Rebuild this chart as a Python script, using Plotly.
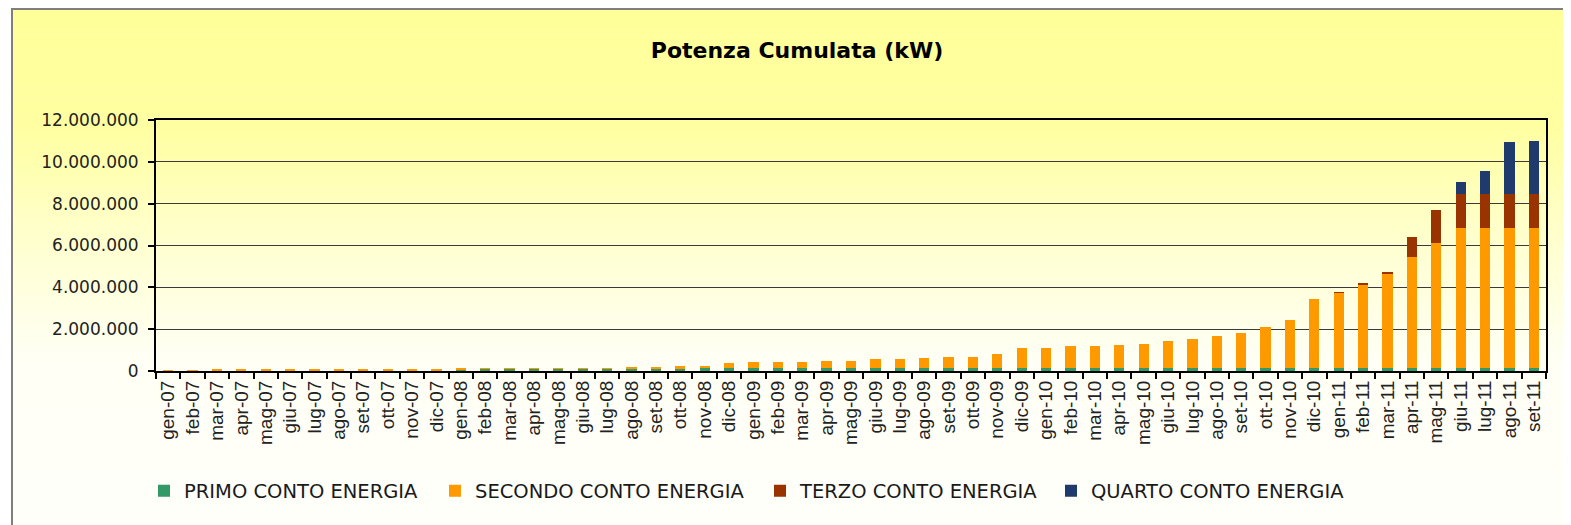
import plotly.graph_objects as go

# mesi (gen-07 ... set-11)
months = [
    "gen-07", "feb-07", "mar-07", "apr-07", "mag-07", "giu-07", "lug-07", "ago-07", "set-07", "ott-07", "nov-07", "dic-07",
    "gen-08", "feb-08", "mar-08", "apr-08", "mag-08", "giu-08", "lug-08", "ago-08", "set-08", "ott-08", "nov-08", "dic-08",
    "gen-09", "feb-09", "mar-09", "apr-09", "mag-09", "giu-09", "lug-09", "ago-09", "set-09", "ott-09", "nov-09", "dic-09",
    "gen-10", "feb-10", "mar-10", "apr-10", "mag-10", "giu-10", "lug-10", "ago-10", "set-10", "ott-10", "nov-10", "dic-10",
    "gen-11", "feb-11", "mar-11", "apr-11", "mag-11", "giu-11", "lug-11", "ago-11", "set-11",
]

# potenza cumulata in kW
primo = [
    0, 0, 0, 0, 0, 0, 0, 0, 0, 0, 0, 0,
    95000, 98000, 100000, 102000, 105000, 107000, 110000, 112000, 115000, 118000, 120000, 125000,
    128000, 130000, 132000, 134000, 136000, 138000, 140000, 142000, 144000, 146000, 148000, 150000,
    152000, 153000, 154000, 155000, 156000, 157000, 158000, 159000, 160000, 161000, 162000, 163000,
    163000, 163000, 163000, 163000, 163000, 163000, 163000, 163000, 163000,
]
secondo = [
    40000, 45000, 50000, 52000, 55000, 58000, 60000, 62000, 65000, 68000, 70000, 75000,
    35000, 34000, 34000, 34000, 33000, 33000, 32000, 78000, 80000, 137000, 140000, 240000,
    302000, 302000, 303000, 356000, 359000, 422000, 425000, 478000, 526000, 529000, 652000, 960000,
    963000, 1027000, 1031000, 1085000, 1134000, 1273000, 1382000, 1511000, 1680000, 1919000, 2298000, 3277000,
    3567000, 3957000, 4487000, 5277000, 5957000, 6687000, 6687000, 6687000, 6687000,
]
terzo = [
    0, 0, 0, 0, 0, 0, 0, 0, 0, 0, 0, 0,
    0, 0, 0, 0, 0, 0, 0, 0, 0, 0, 0, 0,
    0, 0, 0, 0, 0, 0, 0, 0, 0, 0, 0, 0,
    0, 0, 0, 0, 0, 0, 0, 0, 0, 0, 0, 0,
    40000, 50000, 60000, 980000, 1570000, 1590000, 1590000, 1590000, 1590000,
]
quarto = [
    0, 0, 0, 0, 0, 0, 0, 0, 0, 0, 0, 0,
    0, 0, 0, 0, 0, 0, 0, 0, 0, 0, 0, 0,
    0, 0, 0, 0, 0, 0, 0, 0, 0, 0, 0, 0,
    0, 0, 0, 0, 0, 0, 0, 0, 0, 0, 0, 0,
    0, 0, 0, 0, 0, 620000, 1110000, 2500000, 2580000,
]

series = [
    ("PRIMO CONTO ENERGIA", primo, "#339966", "legend"),
    ("SECONDO CONTO ENERGIA", secondo, "#FF9900", "legend2"),
    ("TERZO CONTO ENERGIA", terzo, "#993300", "legend3"),
    ("QUARTO CONTO ENERGIA", quarto, "#1F3B6E", "legend4"),
]

# la pagina ha un margine di 8px: la figura e' spostata di (8, 8)
OFF = 8
W, H = 1571 - OFF, 525 - OFF
L, R, T, B = 156 - OFF, 25, 120 - OFF, 154
pw, ph = W - L - R, H - T - B


def px_x(x):
    # x in coordinate della finestra -> paper
    return (x - OFF - L) / pw


def px_y(y):
    return (H - B - (y - OFF)) / ph


fig = go.Figure()
for name, vals, col, leg in series:
    fig.add_trace(go.Bar(x=months, y=vals, name=name, marker_color=col,
                         marker_line_width=0, legend=leg))

# sfondo sfumato giallo -> bianco, a strisce
stops = [(8, 153), (130, 162), (250, 210), (360, 245), (525, 250)]
shapes = []
n = 110
top, bot = 8, 525
step = (bot - top) / n
for i in range(n):
    y0 = top + i * step
    yc = y0 + step / 2
    for (a, ca), (b, cb) in zip(stops[:-1], stops[1:]):
        if a <= yc <= b:
            c = ca + (cb - ca) * (yc - a) / (b - a)
            break
    shapes.append(dict(type="rect", xref="paper", yref="paper", layer="below",
                       x0=px_x(12), x1=px_x(1575), y0=px_y(y0 + step + 0.5), y1=px_y(y0),
                       fillcolor="rgb(255,255,%d)" % round(c), line_width=0))
shapes.append(dict(type="rect", xref="paper", yref="paper", layer="below",
                   x0=px_x(12), x1=px_x(1569), y0=px_y(535), y1=px_y(9),
                   line=dict(color="#7f7f7f", width=2), fillcolor="rgba(0,0,0,0)"))

legend_left = [144, 435, 760, 1051]
legends = {}
for k, xl in zip(["legend", "legend2", "legend3", "legend4"], legend_left):
    legends[k] = dict(x=px_x(xl), y=px_y(491), xanchor="left", yanchor="middle",
                      orientation="h", bgcolor="rgba(0,0,0,0)",
                      font=dict(family="DejaVu Sans", size=19.5, color="#1a1a1a"))

fig.update_layout(
    width=W, height=H,
    margin=dict(l=L, r=R, t=T, b=B, autoexpand=False),
    paper_bgcolor="white",
    plot_bgcolor="rgba(0,0,0,0)",
    barmode="stack",
    bargap=0.58,
    separators=",.",
    title=dict(text="<b>Potenza Cumulata (kW)</b>", x=(797 - OFF) / W, xanchor="center",
               y=1 - 42 / H, yanchor="middle",
               font=dict(family="DejaVu Sans", size=22, color="black")),
    shapes=shapes,
    showlegend=True,
    **legends,
)

fig.update_xaxes(
    type="category", tickangle=-90, tickson="boundaries",
    ticks="outside", ticklen=6, tickcolor="black", tickwidth=1.5,
    showline=True, linecolor="black", linewidth=2, mirror=True,
    showgrid=False,
    tickfont=dict(family="Liberation Sans", size=19, color="#222222"),
)
fig.update_yaxes(
    range=[0, 12000000], dtick=2000000, tickformat=",d",
    ticks="outside", ticklen=6, tickcolor="black", tickwidth=1.5,
    ticklabelstandoff=6,
    showline=True, linecolor="black", linewidth=2, mirror=True,
    showgrid=True, gridcolor="#3a3a3a", gridwidth=1,
    zeroline=False,
    tickfont=dict(family="DejaVu Sans", size=17, color="#222222"),
)

fig.write_html("out.html")
